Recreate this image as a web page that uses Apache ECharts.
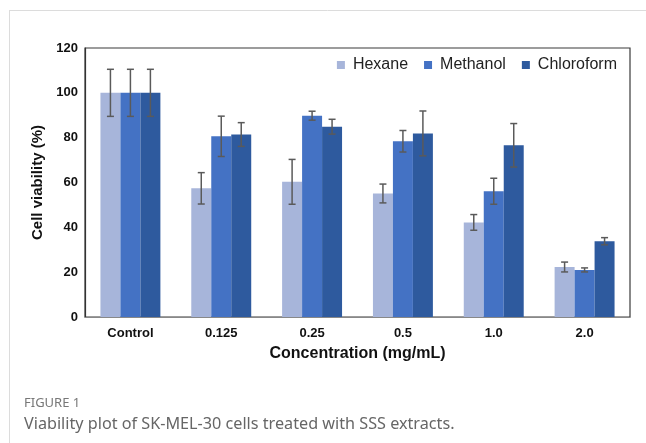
<!DOCTYPE html>
<html><head><meta charset="utf-8">
<script src="https://cdn.jsdelivr.net/npm/echarts@6/dist/echarts.min.js"></script>
<style>html,body{margin:0;padding:0;background:#fff}#c{width:646px;height:443px}</style>
</head><body><div id="c"></div>
<script>
var categories = ['Control', '0.125', '0.25', '0.5', '1.0', '2.0'];
var seriesNames = ['Hexane', 'Methanol', 'Chloroform'];
var hexane = [100, 57.4, 60.3, 55.1, 42.2, 22.3];
var methanol = [100, 80.6, 89.8, 78.4, 56.1, 21.0];
var chloroform = [100, 81.4, 84.9, 81.9, 76.6, 33.8];
var hexaneErr = [10.5, 7.0, 10.0, 4.2, 3.5, 2.2];
var methanolErr = [10.5, 9.0, 2.0, 4.8, 5.8, 0.9];
var chloroformErr = [10.5, 5.3, 3.3, 10.0, 9.7, 1.6];
var colors = ['#a7b5da', '#4472c4', '#2e5a9e'];

var values = [hexane, methanol, chloroform];
var errs = [hexaneErr, methanolErr, chloroformErr];
var groupFrac = 0.66;
var font = 'Arial, "Liberation Sans", sans-serif';

var series = [];
values.forEach(function (v, s) {
  series.push({
    name: seriesNames[s], type: 'bar', data: v,
    barGap: '0%', barCategoryGap: '34%',
    itemStyle: { color: colors[s] }, z: 2
  });
});
values.forEach(function (v, s) {
  var data = v.map(function (val, i) { return [i, val - errs[s][i], val + errs[s][i]]; });
  series.push({
    type: 'custom', name: seriesNames[s] + ' err', z: 5, silent: true,
    data: data,
    renderItem: function (params, api) {
      var band = api.size([1, 0])[0];
      var bw = band * groupFrac / 3;
      var off = (s - 1) * bw;
      var lo = api.coord([api.value(0), api.value(1)]);
      var hi = api.coord([api.value(0), api.value(2)]);
      var x = lo[0] + off;
      var cw = 3.5;
      var st = { stroke: '#5a5a5a', lineWidth: 1.5 };
      return { type: 'group', children: [
        { type: 'line', shape: { x1: x, y1: lo[1], x2: x, y2: hi[1] }, style: st },
        { type: 'line', shape: { x1: x - cw, y1: lo[1], x2: x + cw, y2: lo[1] }, style: st },
        { type: 'line', shape: { x1: x - cw, y1: hi[1], x2: x + cw, y2: hi[1] }, style: st }
      ]};
    }
  });
});

var chart = echarts.init(document.getElementById('c'), null, { renderer: 'canvas' });
chart.setOption({
  animation: false,
  backgroundColor: '#fff',
  grid: { left: 85, top: 48, right: 16, bottom: 126, show: true, borderColor: '#3a3a3a', borderWidth: 1.2 },
  legend: {
    data: seriesNames, right: 24, top: 52, itemWidth: 8, itemHeight: 8, itemGap: 16,
    icon: 'rect', textStyle: { fontFamily: font, fontSize: 16, color: '#222', padding: [0, 0, 0, 3] }
  },
  xAxis: {
    type: 'category', data: categories,
    name: 'Concentration (mg/mL)', nameLocation: 'middle', nameGap: 29,
    nameTextStyle: { fontFamily: font, fontSize: 16, fontWeight: 'bold', color: '#111' },
    axisLine: { lineStyle: { color: '#888', width: 1.2 } }, axisTick: { show: false },
    axisLabel: { fontFamily: font, fontSize: 13, fontWeight: 'bold', color: '#111', margin: 10 }
  },
  yAxis: {
    type: 'value', min: 0, max: 120, interval: 20,
    name: 'Cell viability (%)', nameLocation: 'middle', nameGap: 40,
    nameTextStyle: { fontFamily: font, fontSize: 15, fontWeight: 'bold', color: '#111' },
    axisLine: { show: true, lineStyle: { color: '#333', width: 1.2 } }, axisTick: { show: false },
    splitLine: { show: false },
    axisLabel: { fontFamily: font, fontSize: 13, fontWeight: 'bold', color: '#111', margin: 7 }
  },
  series: series,
  graphic: [
    { type: 'line', shape: { x1: 9, y1: 10.5, x2: 646, y2: 10.5 }, style: { stroke: '#dcdcdc', lineWidth: 1 } },
    { type: 'line', shape: { x1: 9.5, y1: 10, x2: 9.5, y2: 443 }, style: { stroke: '#dcdcdc', lineWidth: 1 } },
    { type: 'text', left: 24, top: 397, style: { text: 'FIGURE 1', font: '13px "Noto Sans", "Open Sans", sans-serif', fill: '#777' } },
    { type: 'text', left: 24, top: 416, style: { text: 'Viability plot of SK-MEL-30 cells treated with SSS extracts.', font: '16.2px "Noto Sans", "Open Sans", sans-serif', fill: '#666' } }
  ]
});
</script></body></html>
